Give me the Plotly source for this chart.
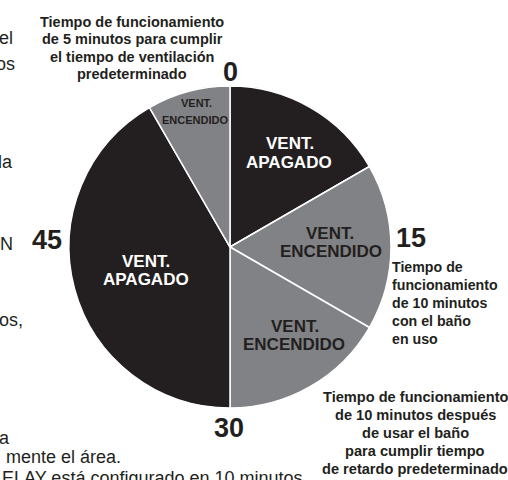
import plotly.graph_objects as go

# ---- data ----
slice_ids = ["s1", "s2", "s3", "s4", "s5"]
slice_minutes = [10, 10, 10, 25, 5]
slice_states = ["APAGADO", "ENCENDIDO", "ENCENDIDO", "APAGADO", "ENCENDIDO"]
minute_ticks = ["0", "15", "30", "45"]

top_note = ["Tiempo de funcionamiento", "de 5 minutos para cumplir",
            "el tiempo de ventilación", "predeterminado"]
right_note = ["Tiempo de", "funcionamiento", "de 10 minutos", "con el baño", "en uso"]
bottom_note = ["Tiempo de funcionamiento", "de 10 minutos después", "de usar el baño",
               "para cumplir tiempo", "de retardo predeterminado"]
side_fragments = ["el", "os", "da", "ON", "os,", "ra", "mente el área.",
                  "ELAY está configurado en 10 minutos"]

DARK = "#231f20"
GRAY = "#808285"
W, H = 508, 480
BOLD = "Liberation Sans, Arial, sans-serif"

colors = [DARK if s == "APAGADO" else GRAY for s in slice_states]

fig = go.Figure()
fig.add_trace(go.Pie(
    labels=slice_ids, values=slice_minutes, sort=False, direction="clockwise",
    rotation=0, marker=dict(colors=colors, line=dict(color="white", width=1.5)),
    textinfo="none", hoverinfo="skip", showlegend=False,
    domain=dict(x=[69 / W, 391 / W], y=[72 / H, 394 / H]),
))

ann = []


def add(text, x, y, size, color=DARK, bold=True, xanchor="center"):
    ann.append(dict(text=f"<b>{text}</b>" if bold else text, x=x, y=y, xref="x", yref="y",
                    showarrow=False, xanchor=xanchor, yanchor="middle",
                    font=dict(family=BOLD, size=size, color=color)))


# slice labels
add("VENT.", 290, 143, 17, "white"); add("APAGADO", 289, 162, 17, "white")
add("VENT.", 330, 233, 17); add("ENCENDIDO", 331, 251, 17)
add("VENT.", 295, 326, 17); add("ENCENDIDO", 294, 344, 17)
add("VENT.", 146, 261, 17, "white"); add("APAGADO", 146, 279, 17, "white")
add("VENT.", 196, 103, 11); add("ENCENDIDO", 195, 120, 11)

# minute ticks
add(minute_ticks[0], 230, 72, 27)
add(minute_ticks[1], 394, 238, 27, xanchor="left")
add(minute_ticks[2], 229, 428, 27)
add(minute_ticks[3], 47, 240, 27)

# notes
for i, t in enumerate(top_note):
    add(t, 132, 22 + i * 17.4, 14.5)
for i, t in enumerate(right_note):
    add(t, 390, 267 + i * 18, 14.2, xanchor="left")
for i, t in enumerate(bottom_note):
    add(t, 415, 397 + i * 18, 14.6)

# cut-off body text on the left (right-anchored so the beginnings fall off the page)
frag_pos = [(15, 38), (17, 64), (15, 162), (15, 244), (25, 320), (12, 438)]
for t, (x, y) in zip(side_fragments[:6], frag_pos):
    add(t, x, y, 18, bold=False, xanchor="right")
add(side_fragments[6], 4, 457, 18, bold=False, xanchor="left")
add(side_fragments[7], 0, 478, 18, bold=False, xanchor="left")

fig.update_layout(
    width=W, height=H, margin=dict(l=0, r=0, t=0, b=0),
    paper_bgcolor="white", plot_bgcolor="white",
    xaxis=dict(range=[0, W], visible=False, fixedrange=True),
    yaxis=dict(range=[H, 0], visible=False, fixedrange=True),
    annotations=ann,
)
fig.write_html("out.html", config={"displayModeBar": False},
               post_script="document.body.style.margin='0';document.body.style.overflow='hidden';")
